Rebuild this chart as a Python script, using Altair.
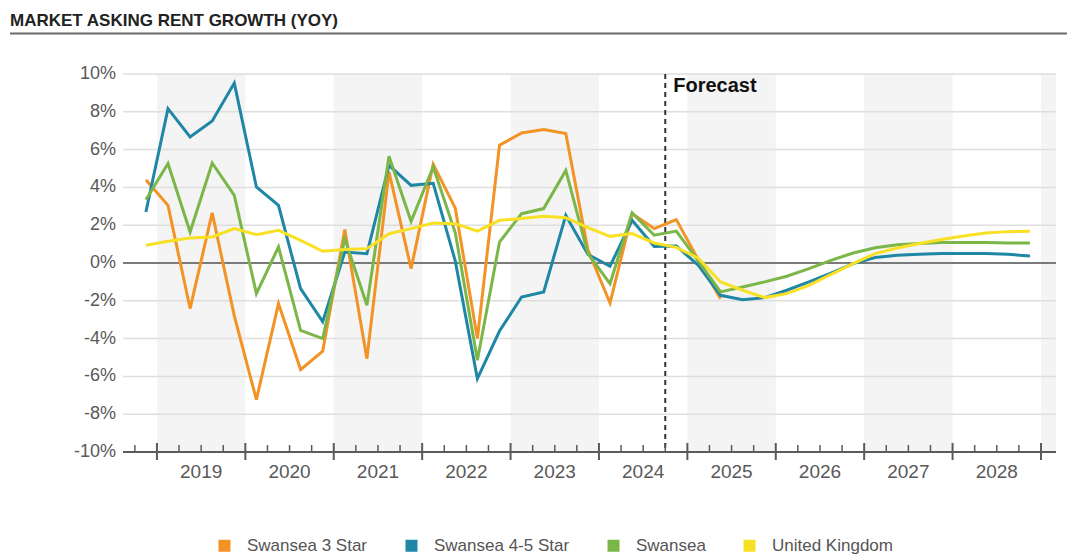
import altair as alt
import pandas as pd

# ---------------- data ----------------
series_names = ["Swansea 3 Star", "Swansea 4-5 Star", "Swansea", "United Kingdom"]
series_colors = ["#F39325", "#1F86A6", "#7AB648", "#F8E024"]

# quarterly points 2018 Q4 .. 2028 Q4
quarters = ["2018Q4"] + [f"{y}Q{q}" for y in range(2019, 2029) for q in (1, 2, 3, 4)]

swansea_3_star = [4.41, 3.05, -2.41, 2.65, -2.8, -7.23, -2.15, -5.64, -4.66, 1.77,
                  -5.06, 4.82, -0.30, 5.22, 2.90, -4.00, 6.23, 6.88, 7.06, 6.85,
                  0.70, -2.12, 2.61, 1.82, 2.30, 0.15, -1.89]

swansea_45_star = [2.70, 8.17, 6.67, 7.51, 9.52, 4.02, 3.05, -1.36, -3.10, 0.58,
                   0.49, 5.17, 4.11, 4.22, 0.10, -6.12, -3.60, -1.80, -1.53, 2.52,
                   0.45, -0.17, 2.26, 0.88, 0.90, -0.12, -1.71, -1.94, -1.83, -1.44,
                   -1.00, -0.53, -0.03, 0.29, 0.41, 0.46, 0.50, 0.50, 0.50, 0.46, 0.37]

swansea = [3.35, 5.26, 1.64, 5.29, 3.58, -1.62, 0.85, -3.56, -4.00, 1.29,
           -2.24, 5.65, 2.20, 5.08, 1.60, -5.15, 1.11, 2.61, 2.88, 4.90,
           0.50, -1.09, 2.65, 1.47, 1.69, 0.10, -1.53, -1.27, -1.00, -0.70,
           -0.30, 0.14, 0.53, 0.81, 0.97, 1.03, 1.08, 1.08, 1.08, 1.06, 1.06]

united_kingdom = [0.94, 1.15, 1.32, 1.38, 1.82, 1.50, 1.73, 1.20, 0.62, 0.72,
                  0.76, 1.55, 1.82, 2.12, 2.08, 1.69, 2.26, 2.35, 2.47, 2.40,
                  1.87, 1.41, 1.56, 1.06, 0.83, 0.25, -1.00, -1.44, -1.83, -1.62,
                  -1.18, -0.60, -0.03, 0.50, 0.79, 1.03, 1.24, 1.43, 1.59, 1.66, 1.68]

year_labels = ["2019", "2020", "2021", "2022", "2023", "2024", "2025", "2026", "2027", "2028"]
y_ticks = [-10, -8, -6, -4, -2, 0, 2, 4, 6, 8, 10]
y_tick_labels = [f"{v}%" for v in y_ticks]
forecast_start = 2024.75
forecast_label = "Forecast"
title_text = "MARKET ASKING RENT GROWTH (YOY)"

# ---------------- tables ----------------
def qpos(label):
    y, q = label.split("Q")
    return int(y) + (int(q) - 0.5) / 4.0

rows = []
for name, vals in zip(series_names, [swansea_3_star, swansea_45_star, swansea, united_kingdom]):
    for lab, v in zip(quarters, vals):
        rows.append({"series": name, "quarter": lab, "t": qpos(lab), "value": v})
lines_df = pd.DataFrame(rows)

X_DOMAIN = [2018.616, 2029.17]
W, H = 933, 378
PAD_L, PAD_T = 115, 66
TOTAL_W, TOTAL_H = 1059, 550

shaded_years = [int(y) for y in year_labels[::2]] + [int(year_labels[-1]) + 1]
bands_df = pd.DataFrame({"start": shaded_years,
                         "end": [min(y + 1, X_DOMAIN[1]) for y in shaded_years]})
major_df = pd.DataFrame({"t": [int(y) for y in year_labels] + [int(year_labels[-1]) + 1]})
minor_df = pd.DataFrame({"t": [int(year_labels[0]) - 0.25] +
                         [int(y) + f for y in year_labels for f in (0.25, 0.5, 0.75)]})
years_df = pd.DataFrame({"label": year_labels, "t": [int(y) + 0.5 for y in year_labels]})
grid_df = pd.DataFrame({"v": y_ticks, "label": y_tick_labels})

xs = alt.Scale(domain=X_DOMAIN, nice=False, zero=False)
ys = alt.Scale(domain=[-10, 10], nice=False)
FONT = "Liberation Sans"

bands = alt.Chart(bands_df).mark_rect(color="#F4F4F4").encode(
    x=alt.X("start:Q", scale=xs, axis=None), x2="end:Q",
    y=alt.value(0), y2=alt.value(H))

grid = alt.Chart(grid_df).mark_rule(color="#DEDEDE", strokeWidth=1.5).encode(
    y=alt.Y("v:Q", scale=ys, axis=None), x=alt.value(0), x2=alt.value(W))

y_labels = alt.Chart(grid_df).mark_text(
    align="right", baseline="middle", fontSize=18, font=FONT, color="#595959", dx=-7).encode(
    y=alt.Y("v:Q", scale=ys, axis=None), x=alt.value(0), text="label:N")

zero = alt.Chart(pd.DataFrame({"v": [0]})).mark_rule(color="#7A7A7A", strokeWidth=2).encode(
    y=alt.Y("v:Q", scale=ys, axis=None), x=alt.value(0), x2=alt.value(W))

fc_rule = alt.Chart(pd.DataFrame({"t": [forecast_start]})).mark_rule(
    color="#333333", strokeWidth=2, strokeDash=[5, 4]).encode(
    x=alt.X("t:Q", scale=xs, axis=None), y=alt.value(0), y2=alt.value(H))

fc_text = alt.Chart(pd.DataFrame({"t": [forecast_start], "label": [forecast_label]})).mark_text(
    align="left", baseline="middle", fontWeight="bold", fontSize=20, font=FONT,
    color="#111111", dx=8).encode(
    x=alt.X("t:Q", scale=xs, axis=None), y=alt.value(12), text="label:N")

lines = alt.Chart(lines_df).mark_line(strokeWidth=3).encode(
    x=alt.X("t:Q", scale=xs, axis=None),
    y=alt.Y("value:Q", scale=ys, axis=None),
    color=alt.Color("series:N", scale=alt.Scale(domain=series_names, range=series_colors),
                    legend=alt.Legend(orient="none", legendX=93, legendY=463,
                                      direction="horizontal", symbolType="square",
                                      symbolSize=36, symbolStrokeWidth=6,
                                      labelFontSize=17, labelColor="#555555",
                                      labelFont=FONT, labelOffset=14,
                                      columnPadding=28, title=None, padding=0)),
    order=alt.Order("t:Q"))

axis_line = alt.Chart(pd.DataFrame({"v": [-10]})).mark_rule(color="#5A5A5A", strokeWidth=2).encode(
    y=alt.Y("v:Q", scale=ys, axis=None), x=alt.value(0), x2=alt.value(W))

major_ticks = alt.Chart(major_df).mark_rule(color="#5A5A5A", strokeWidth=2).encode(
    x=alt.X("t:Q", scale=xs, axis=None), y=alt.value(H - 9), y2=alt.value(H + 8))

minor_ticks = alt.Chart(minor_df).mark_rule(color="#5A5A5A", strokeWidth=1.5).encode(
    x=alt.X("t:Q", scale=xs, axis=None), y=alt.value(H - 7), y2=alt.value(H))

year_text = alt.Chart(years_df).mark_text(
    baseline="middle", align="center", fontSize=19, font=FONT, color="#595959").encode(
    x=alt.X("t:Q", scale=xs, axis=None), y=alt.value(H + 20), text="label:N")

title = alt.Chart(pd.DataFrame({"label": [title_text]})).mark_text(
    align="left", baseline="alphabetic", fontWeight="bold", fontSize=17, font=FONT,
    color="#222222").encode(x=alt.value(-113), y=alt.value(-48), text="label:N")

title_rule = alt.Chart(pd.DataFrame({"a": [0]})).mark_rule(color="#6A6A6A", strokeWidth=2).encode(
    x=alt.value(-113), x2=alt.value(TOTAL_W - PAD_L), y=alt.value(-40.5))

chart = alt.layer(
    bands, grid, zero, fc_rule, fc_text, lines,
    axis_line, major_ticks, minor_ticks, year_text, y_labels, title, title_rule
).properties(
    width=W, height=H,
    autosize=alt.AutoSizeParams(type="none"),
    padding={"left": PAD_L, "top": PAD_T, "right": TOTAL_W - PAD_L - W,
             "bottom": TOTAL_H - PAD_T - H},
).configure(font=FONT).configure_view(stroke=None)

chart.save("out.html", embed_options={"renderer": "svg", "actions": False})
